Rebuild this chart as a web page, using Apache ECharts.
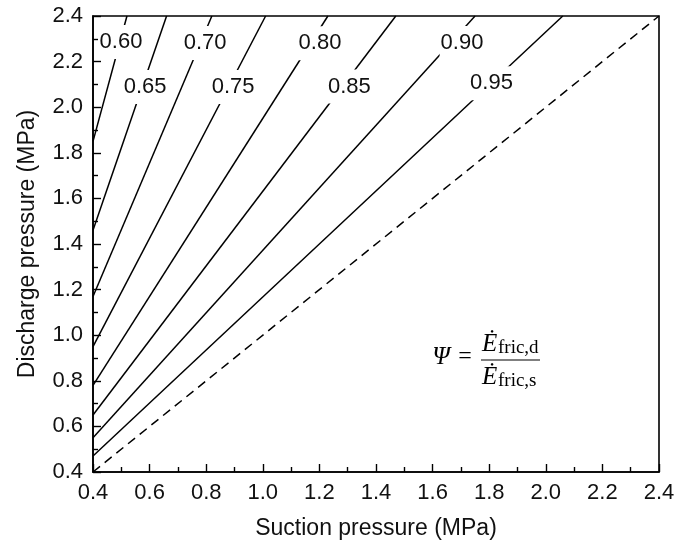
<!DOCTYPE html>
<html lang="en">
<head>
  <meta charset="UTF-8">
  <title>Discharge vs suction pressure</title>
  <script src="https://cdn.jsdelivr.net/npm/echarts@6/dist/echarts.min.js"></script>
  <style>
    html, body { margin: 0; padding: 0; background: #fff; }
  </style>
</head>
<body>
  <div id="app" style="width: 681px; height: 545px;"></div>
  <script>
    // ratio of each iso-line
    var psi = [0.60, 0.65, 0.70, 0.75, 0.80, 0.85, 0.90, 0.95]
    // discharge pressure where each line leaves the left axis (suction = 0.4)
    var startD = [1.85, 1.46, 1.17, 0.95, 0.78, 0.65, 0.55, 0.47]
    // suction pressure where each line reaches the top (discharge = 2.4)
    var endS = [0.52, 0.66, 0.82, 1.01, 1.23, 1.47, 1.75, 2.06]
    // where the line labels sit
    var labelS = [0.499, 0.584, 0.796, 0.895, 1.202, 1.306, 1.704, 1.808]
    var labelD = [2.286, 2.089, 2.282, 2.089, 2.280, 2.091, 2.282, 2.105]
    // dashed reference line (discharge = suction)
    var diag = [[0.4, 0.4], [2.4, 2.4]]

    var app = document.querySelector('#app')
    var mCharts = echarts.init(app)

    var font = 'Liberation Sans'
    var ink = '#111'
    var series = []
    psi.forEach(function (p, i) {
      series.push({
        type: 'line',
        data: [[0.4, startD[i]], [endS[i], 2.4]],
        symbol: 'none',
        lineStyle: { color: '#000', width: 1.5 }
      })
    })
    series.push({
      type: 'line',
      data: diag,
      symbol: 'none',
      lineStyle: { color: '#000', width: 1.5, type: [9, 6] }
    })

    var axisCommon = {
      type: 'value',
      min: 0.4,
      max: 2.4,
      interval: 0.2,
      nameLocation: 'middle',
      nameTextStyle: { fontFamily: font, fontSize: 23, color: ink },
      axisLine: { show: true, onZero: false, lineStyle: { color: '#000', width: 1.6 } },
      axisTick: { show: true, inside: true, length: 8, lineStyle: { color: '#000', width: 1.4 } },
      minorTick: { show: true, splitNumber: 2, length: 5, lineStyle: { color: '#000', width: 1.4 } },
      splitLine: { show: false },
      axisLabel: {
        fontFamily: font,
        fontSize: 22,
        color: ink,
        margin: 10,
        formatter: function (v) { return v.toFixed(1) }
      }
    }

    var option = {
      animation: false,
      grid: {
        left: 93, right: 22, top: 16, bottom: 72,
        show: true, borderColor: '#000', borderWidth: 1.6
      },
      xAxis: Object.assign({}, axisCommon, { name: 'Suction pressure (MPa)', nameGap: 45 }),
      yAxis: Object.assign({}, axisCommon, { name: 'Discharge pressure (MPa)', nameGap: 54 }),
      series: series
    }
    mCharts.setOption(option)

    // line labels: white boxes that break the lines, placed through the axes
    var graphics = labelS.map(function (s, i) {
      var pt = mCharts.convertToPixel({ gridIndex: 0 }, [s, labelD[i]])
      return {
        type: 'text', x: pt[0], y: pt[1], z: 100,
        style: {
          text: psi[i].toFixed(2), font: '22px "' + font + '"', fill: ink,
          align: 'center', verticalAlign: 'middle',
          backgroundColor: '#fff', padding: [6, 1]
        }
      }
    })

    // formula
    var serif = '"Liberation Serif"'
    graphics.push(
      { type: 'text', x: 441, y: 357, z: 100, style: { text: 'Ψ', font: 'italic 25px ' + serif, fill: '#000', align: 'center', verticalAlign: 'middle' } },
      { type: 'text', x: 465, y: 357, z: 100, style: { text: '=', font: '24px ' + serif, fill: '#000', align: 'center', verticalAlign: 'middle' } },
      { type: 'line', z: 100, shape: { x1: 481, y1: 360, x2: 540, y2: 360 }, style: { stroke: '#000', lineWidth: 1.2 } },
      { type: 'text', x: 482, y: 344, z: 100, style: { text: 'Ė', font: 'italic 25px ' + serif, fill: '#000', align: 'left', verticalAlign: 'middle' } },
      { type: 'text', x: 498, y: 348, z: 100, style: { text: 'fric,d', font: '19px ' + serif, fill: '#000', align: 'left', verticalAlign: 'middle' } },
      { type: 'text', x: 482, y: 377, z: 100, style: { text: 'Ė', font: 'italic 25px ' + serif, fill: '#000', align: 'left', verticalAlign: 'middle' } },
      { type: 'text', x: 498, y: 381, z: 100, style: { text: 'fric,s', font: '19px ' + serif, fill: '#000', align: 'left', verticalAlign: 'middle' } }
    )
    mCharts.setOption({ graphic: graphics })
  </script>
</body>
</html>
